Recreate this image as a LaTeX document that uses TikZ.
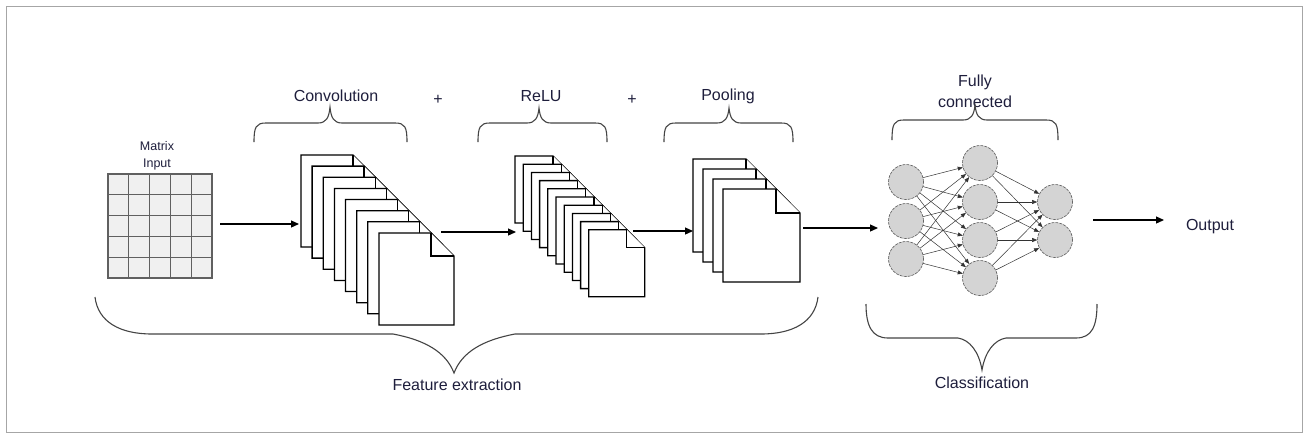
\documentclass[tikz,border=0pt]{standalone}
\usepackage{fontspec}
\setmainfont{Liberation Sans}
\usetikzlibrary{arrows.meta}
\definecolor{txt}{HTML}{1E1E3C}
\definecolor{brc}{HTML}{444444}
\definecolor{neur}{HTML}{D4D4D4}
\tikzset{
  lbl/.style={font=\fontsize{16}{18}\selectfont, text=txt, inner sep=0pt},
  small/.style={font=\fontsize{12.5}{14}\selectfont, text=txt, inner sep=0pt},
  sheet/.style={draw=black, fill=white, line width=1.3pt, line join=miter},
  cell/.style={draw=gray!75!black, fill=gray!12, line width=1.2pt},
  brace/.style={draw=brc, line width=1.1pt},
  arr/.style={draw=black, line width=1.2pt, -{Triangle[length=8pt,width=7pt]}},
  neuron/.style={circle, minimum size=35pt, inner sep=0pt, fill=neur, draw=gray!70!black, dash pattern=on 3pt off 1pt, line width=0.6pt},
  nnedge/.style={draw=black!80, line width=0.5pt, -{Triangle[length=5pt,width=4pt]}},
}
\newcommand\pagesheet[5]{%
  \filldraw[sheet] (#1,#2) -- ({#1+#3-#5},#2) -- ({#1+#3},{#2+#5}) -- ({#1+#3},{#2+#4}) -- (#1,{#2+#4}) -- cycle;
  \draw[sheet] ({#1+#3-#5},#2) -- ({#1+#3-#5},{#2+#5}) -- ({#1+#3},{#2+#5});
}
\begin{document}
\begin{tikzpicture}[x=1pt,y=-1pt]
\useasboundingbox (0,0) rectangle (1306,437);
\draw[gray!70, line width=1pt] (6,6) rectangle (1302,432);

% matrix input
\node[small] (mtx) at (157,146) {Matrix};
\node[small] (inp) at (157,164) {Input};
\foreach \r in {0,...,4} \foreach \c in {0,...,4}
  \draw[cell] ({108+20.8*\c},{174+20.8*\r}) rectangle ++(20.8,20.8);

% convolution stack
\foreach \i in {0,...,7} {\pagesheet{301+11.14*\i}{155+11.14*\i}{75}{92}{23}}
% relu stack
\foreach \i in {0,...,9} {\pagesheet{515+8.2*\i}{156+8.2*\i}{56}{67}{18}}
% pooling stack
\foreach \i in {0,...,3} {\pagesheet{693+10*\i}{159+10*\i}{77}{93}{24}}

% labels
\node[lbl] (conv) at (336,96) {Convolution};
\node[lbl] (plus1) at (438,100) {+};
\node[lbl] (relu) at (541,96) {ReLU};
\node[lbl] (plus2) at (632,100) {+};
\node[lbl] (pool) at (728,96) {Pooling};
\node[lbl] (fully) at (975,82) {Fully};
\node[lbl] (conn) at (975,102) {connected};
\node[lbl] (out) at (1210,227) {Output};
\node[lbl] (feat) at (457,385) {Feature extraction};
\node[lbl] (cls) at (982,383) {Classification};

% top braces
\draw[brace] (254,142) .. controls (254,127) and (256,123) .. (266,123) -- (318,123) .. controls (326,123) and (329,118) .. (330,107) .. controls (331,118) and (334,123) .. (342,123) -- (395,123) .. controls (405,123) and (407,127) .. (407,142);
\draw[brace] (478,142) .. controls (478,127) and (480,123) .. (490,123) -- (527,123) .. controls (535,123) and (538,118) .. (539,108) .. controls (540,118) and (543,123) .. (551,123) -- (595,123) .. controls (605,123) and (607,127) .. (607,142);
\draw[brace] (664,142) .. controls (664,127) and (666,123) .. (676,123) -- (717,123) .. controls (725,123) and (728,118) .. (729,108) .. controls (730,118) and (733,123) .. (741,123) -- (781,123) .. controls (791,123) and (793,127) .. (793,142);
\draw[brace] (892,140) .. controls (892,124) and (894,120) .. (904,120) -- (963,120) .. controls (971,120) and (974,115) .. (975,105) .. controls (976,115) and (979,120) .. (987,120) -- (1046,120) .. controls (1056,120) and (1058,124) .. (1058,140);

% bottom braces
\draw[brace] (95,297) .. controls (98,322) and (120,334) .. (152,334) -- (393,334) .. controls (425,340) and (446,352) .. (454,373) .. controls (462,352) and (483,340) .. (515,334) -- (761,334) .. controls (793,334) and (815,322) .. (818,297);
\draw[brace] (866,304) .. controls (866,326) and (872,338) .. (888,338) -- (958,338) .. controls (970,340) and (979,352) .. (982,370) .. controls (985,352) and (994,340) .. (1006,338) -- (1076,338) .. controls (1092,338) and (1097,326) .. (1097,304);

% neural network
\node[neuron] (i1) at (906,182) {};
\node[neuron] (i2) at (906,221) {};
\node[neuron] (i3) at (906,259) {};
\node[neuron] (h1) at (980,163) {};
\node[neuron] (h2) at (980,202) {};
\node[neuron] (h3) at (980,240) {};
\node[neuron] (h4) at (980,278) {};
\node[neuron] (o1) at (1055,202) {};
\node[neuron] (o2) at (1055,240) {};
\foreach \a in {1,2,3} \foreach \b in {1,2,3,4} \draw[nnedge] (i\a) -- (h\b);
\foreach \b in {1,2,3,4} \foreach \c in {1,2} \draw[nnedge] (h\b) -- (o\c);

% main arrows
\coordinate (a1s) at (220,224); \coordinate (a1e) at (299,224);
\coordinate (a2s) at (441,232); \coordinate (a2e) at (516,232);
\coordinate (a3s) at (633,231); \coordinate (a3e) at (693,231);
\coordinate (a4s) at (803,228); \coordinate (a4e) at (878,228);
\coordinate (a5s) at (1093,220); \coordinate (a5e) at (1164,220);
\draw[arr] (a1s) -- (a1e);
\draw[arr] (a2s) -- (a2e);
\draw[arr] (a3s) -- (a3e);
\draw[arr] (a4s) -- (a4e);
\draw[arr] (a5s) -- (a5e);
\end{tikzpicture}
\end{document}
